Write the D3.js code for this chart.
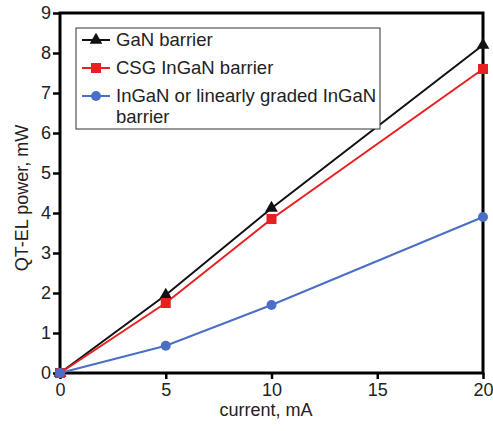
<!DOCTYPE html>
<html>
<head>
<meta charset="utf-8">
<script src="https://cdn.jsdelivr.net/npm/d3@7"></script>
<style>
  body { margin: 0; background: #fff; }
  text { font-family: "Liberation Sans", Arial, sans-serif; fill: #222; }
</style>
</head>
<body>
<svg id="chart" width="493" height="431"></svg>
<script>
'use strict';

var current = [0, 5, 10, 20];
var ganBarrier = [0, 1.95, 4.12, 8.2];
var csgBarrier = [0, 1.75, 3.85, 7.6];
var linearBarrier = [0, 0.68, 1.7, 3.9];
var xTicks = [0, 5, 10, 15, 20];
var yTicks = [0, 1, 2, 3, 4, 5, 6, 7, 8, 9];

var series = [
    {name: ['GaN barrier'], values: ganBarrier, color: '#111111', shape: 'triangle'},
    {name: ['CSG InGaN barrier'], values: csgBarrier, color: '#e8201f', shape: 'square'},
    {name: ['InGaN or linearly graded InGaN', 'barrier'], values: linearBarrier, color: '#4a6fc4', shape: 'circle'}
];

var margin = {top: 13, right: 10, bottom: 58, left: 60};
var width = 483 - margin.left;
var height = 373 - margin.top;

var svg = d3.select('#chart');
var g = svg.append('g').attr('transform', 'translate(' + margin.left + ',' + margin.top + ')');

var x = d3.scaleLinear().domain([0, 20]).range([0, width]);
var y = d3.scaleLinear().domain([0, 9]).range([height, 0]);

// frame
g.append('rect')
    .attr('width', width).attr('height', height)
    .attr('fill', 'none').attr('stroke', '#000').attr('stroke-width', 3);

var xAxis = g.append('g')
    .attr('transform', 'translate(0,' + height + ')')
    .call(d3.axisBottom(x).tickValues(xTicks).tickSize(6).tickPadding(4));
var yAxis = g.append('g')
    .call(d3.axisLeft(y).tickValues(yTicks).tickSize(7).tickPadding(2));

[xAxis, yAxis].forEach(function(ax) {
    ax.select('.domain').remove();
    ax.selectAll('line').attr('stroke', '#000').attr('stroke-width', 2.5);
    ax.selectAll('text').style('font-size', '18px').attr('fill', '#222');
});

var line = d3.line()
    .x(function(d, i) { return x(current[i]); })
    .y(function(d) { return y(d); });

function marker(sel, shape, color) {
    if (shape === 'triangle') {
        sel.append('path').attr('d', d3.symbol(d3.symbolTriangle, 70)()).attr('fill', color);
    } else if (shape === 'square') {
        sel.append('rect').attr('x', -5).attr('y', -5).attr('width', 10).attr('height', 10).attr('fill', color);
    } else {
        sel.append('circle').attr('r', 5).attr('fill', color);
    }
}

series.forEach(function(s) {
    g.append('path')
        .datum(s.values)
        .attr('d', line)
        .attr('fill', 'none')
        .attr('stroke', s.color)
        .attr('stroke-width', 2);
    s.values.forEach(function(v, i) {
        var m = g.append('g').attr('transform', 'translate(' + x(current[i]) + ',' + y(v) + ')');
        marker(m, s.shape, s.color);
    });
});

// legend
var legend = svg.append('g').attr('transform', 'translate(76,28)');
legend.append('rect')
    .attr('width', 304).attr('height', 101)
    .attr('fill', '#fff').attr('stroke', '#333').attr('stroke-width', 1);

var rowY = [12, 40, 68];
series.forEach(function(s, i) {
    var row = legend.append('g').attr('transform', 'translate(0,' + rowY[i] + ')');
    row.append('line')
        .attr('x1', 6).attr('x2', 34).attr('y1', 0).attr('y2', 0)
        .attr('stroke', s.color).attr('stroke-width', 2);
    var m = row.append('g').attr('transform', 'translate(20,0)');
    marker(m, s.shape, s.color);
    s.name.forEach(function(t, j) {
        row.append('text')
            .attr('x', 40).attr('y', 6 + j * 21)
            .style('font-size', '18.5px')
            .text(t);
    });
});

// axis titles
svg.append('text')
    .attr('x', 266).attr('y', 416)
    .attr('text-anchor', 'middle')
    .style('font-size', '18px')
    .text('current, mA');

svg.append('text')
    .attr('transform', 'translate(28,198) rotate(-90)')
    .attr('text-anchor', 'middle')
    .style('font-size', '18px')
    .text('QT-EL power, mW');
</script>
</body>
</html>
